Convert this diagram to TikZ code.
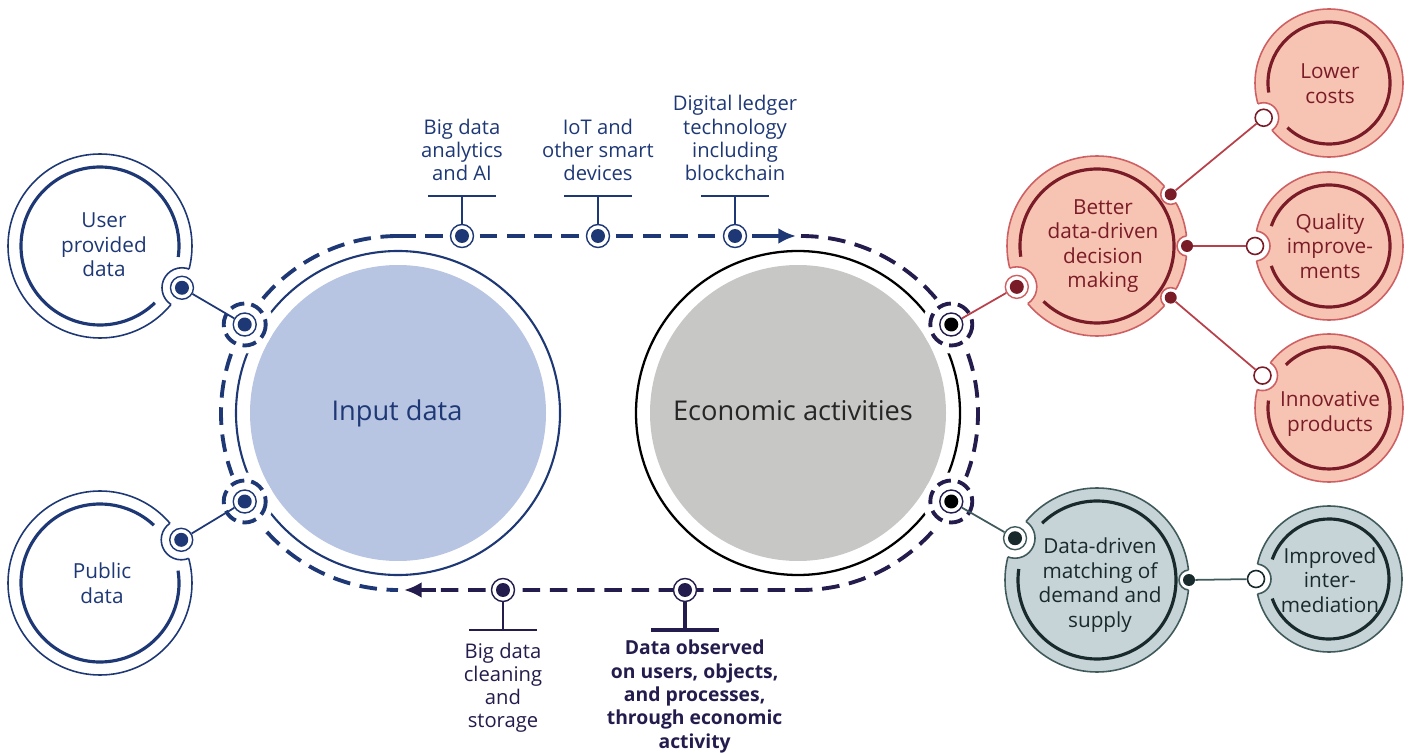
\documentclass[tikz,border=0pt]{standalone}
\usepackage{fontspec}
\setmainfont{Open Sans}
\usetikzlibrary{arrows.meta,calc,positioning}

\definecolor{navy}{RGB}{30,56,118}
\definecolor{plum}{RGB}{35,28,76}
\definecolor{skyfill}{RGB}{183,197,226}
\definecolor{greyfill}{RGB}{199,200,198}
\definecolor{rosefill}{RGB}{247,195,178}
\definecolor{roseedge}{RGB}{206,96,100}
\definecolor{roselink}{RGB}{184,64,74}
\definecolor{wine}{RGB}{122,28,40}
\definecolor{tealfill}{RGB}{198,211,215}
\definecolor{tealedge}{RGB}{64,90,92}
\definecolor{ink}{RGB}{25,42,44}

\tikzset{%
  track/.style={line width=2.2pt,dash pattern=on 10pt off 5.5pt},
  flowtip/.style={line width=2.2pt,-{Latex[length=10pt,width=9pt]}},
  link/.style={line width=1pt},
  stem/.style={line width=0.9pt},
  dot/.style 2 args={circle,inner sep=0pt,minimum size=0.46cm,draw=#1,fill=white,line width=0.8pt,
    path picture={\fill[#2] (path picture bounding box.center) circle[radius=0.14cm];}},
  hollow/.style={circle,inner sep=0pt,minimum size=0.34cm,draw=#1,fill=white,line width=0.9pt},
  rimdot/.style={circle,inner sep=0pt,minimum size=0.24cm,fill=#1},
  txt/.style={align=center,inner sep=0pt,font=\fontsize{11.8}{14}\selectfont},
  lbl/.style={align=center,inner sep=0pt,font=\fontsize{11.5}{13.2}\selectfont},
  bigtxt/.style={inner sep=0pt,font=\fontsize{15.5}{18}\selectfont}
}

% centre, radius, fill, edge, ring, notch angle
\newcommand{\bubble}[6]{%
  \draw[#4, fill=#3, line width=0.9pt] #1 circle[radius=#2];
  \draw[#5, line width=1.8pt] #1 ++({#6+19}:{#2-13})
    arc[start angle={#6+19}, end angle={#6+341}, radius={#2-13}];
}
% centre, radius, point, notch radius, edge
\newcommand{\notch}[5]{%
  \fill[white] #3 circle[radius=#4];
  \begin{scope}
    \clip #1 circle[radius=#2];
    \draw[#5, line width=0.9pt] #3 circle[radius=#4];
  \end{scope}
}

\begin{document}
\begin{tikzpicture}[x=0.02cm,y=-0.02cm]
\useasboundingbox (0,0) rectangle (1411,753);

% the two main circles
\coordinate (ci) at (398,413);
\coordinate (ce) at (798,413);
\fill[skyfill] (ci) circle[radius=148];
\fill[greyfill] (ce) circle[radius=148];
\draw[navy, line width=1.2pt] (ci) circle[radius=162];
\draw[black, line width=1.3pt] (ce) circle[radius=162];
\node[bigtxt, text=navy] (input) at (397,413) {Input data};
\node[bigtxt, text=black!85] (econ) at (793,411) {Economic activities};

% the dashed loop
\draw[navy, track] (398,236) arc[start angle=270, end angle=90, radius=177];
\draw[navy, track] (398,236) -- (766,236);
\draw[navy, flowtip] (764,236) -- (796,236);
\draw[plum, track] (801,236) arc[start angle=-90, end angle=90, radius=177] -- (434,590);
\draw[plum, flowtip] (436,590) -- (404,590);

\coordinate (ji1) at ($(ci)+(210:177)$);
\coordinate (ji2) at ($(ci)+(150:177)$);
\coordinate (je1) at ($(ce)+(-30:177)$);
\coordinate (je2) at ($(ce)+(30:177)$);
\foreach \p/\c in {ji1/navy,ji2/navy,je1/plum,je2/plum}{
  \fill[white] (\p) circle[radius=29];
  \draw[\c, track, dash pattern=on 8pt off 4pt] (\p) circle[radius=21];
}
\node[dot={navy}{navy}] (ri1) at (ji1) {};
\node[dot={navy}{navy}] (ri2) at (ji2) {};
\node[dot={plum}{black}] (re1) at (je1) {};
\node[dot={plum}{black}] (re2) at (je2) {};

% technologies on top
\node[dot={navy}{navy}] (t1) at (462,236) {};
\node[dot={navy}{navy}] (t2) at (598,236) {};
\node[dot={navy}{navy}] (t3) at (735,236) {};
\coordinate (bar1) at (462,196);
\coordinate (bar2) at (598,196);
\coordinate (bar3) at (735,196);
\foreach \i in {1,2,3}{
  \draw[navy, stem] ($(bar\i)+(-34,0)$) -- ($(bar\i)+(34,0)$);
  \draw[navy, stem] (bar\i) -- (t\i);
}
\node[lbl, text=navy, above=8.5pt of bar1] (ai) {Big data\\analytics\\and AI};
\node[lbl, text=navy, above=8.5pt of bar2] (iot) {IoT and\\other smart\\devices};
\node[lbl, text=navy, above=8.5pt of bar3] (dlt) {Digital ledger\\technology\\including\\blockchain};

% bottom
\node[dot={plum}{plum}] (s1) at (503,590) {};
\node[dot={plum}{plum}] (s2) at (685,590) {};
\coordinate (foot1) at (503,630);
\coordinate (foot2) at (685,630);
\draw[plum, stem] ($(foot1)+(-34,0)$) -- ($(foot1)+(34,0)$);
\draw[plum, stem] (foot1) -- (s1);
\draw[plum, line width=2.2pt] ($(foot2)+(-34,0)$) -- ($(foot2)+(34,0)$);
\draw[plum, line width=2.2pt] (foot2) -- (s2);
\node[lbl, text=plum, below=7pt of foot1] (clean) {Big data\\cleaning\\and\\storage};
\node[lbl, text=plum, font=\fontsize{11}{13.3}\selectfont\bfseries, below=5.5pt of foot2, xshift=5.5pt] (obs)
  {Data observed\\on users, objects,\\and processes,\\through economic\\activity};

% data sources
\coordinate (cu) at (100,246);
\coordinate (cp) at (100,583);
\bubble{(cu)}{92}{white}{navy}{navy}{27}
\bubble{(cp)}{92}{white}{navy}{navy}{-28}
\coordinate (nu) at ($(cu)+(27:92)$);
\coordinate (np) at ($(cp)+(-28:92)$);
\notch{(cu)}{92}{(nu)}{20}{navy}
\notch{(cp)}{92}{(np)}{20}{navy}
\node[dot={navy}{navy}] (du) at (nu) {};
\node[dot={navy}{navy}] (dp) at (np) {};
\node[txt, text=navy] (user) at (104,245) {User\\provided\\data};
\node[txt, text=navy] (public) at (102,583) {Public\\data};
\draw[navy, link] (du) -- (ri1);
\draw[navy, link] (dp) -- (ri2);

% better decisions
\coordinate (cb) at (1097,246);
\coordinate (cl) at (1329,83);
\coordinate (cq) at (1329,246);
\coordinate (cn) at (1329,408);
\bubble{(cb)}{90}{rosefill}{roseedge}{wine}{153}
\bubble{(cl)}{74}{rosefill}{roseedge}{wine}{152}
\bubble{(cq)}{74}{rosefill}{roseedge}{wine}{180}
\bubble{(cn)}{74}{rosefill}{roseedge}{wine}{206}
\coordinate (nb) at ($(cb)+(153:90)$);
\notch{(cb)}{90}{(nb)}{20}{roseedge}
\foreach \a/\n in {-35/1,0/2,35/3}{
  \coordinate (nr\n) at ($(cb)+(\a:90)$);
  \notch{(cb)}{90}{(nr\n)}{10}{roseedge}
}
\coordinate (nl) at ($(cl)+(152:74)$);
\coordinate (nq) at ($(cq)+(180:74)$);
\coordinate (nn) at ($(cn)+(206:74)$);
\notch{(cl)}{74}{(nl)}{15}{roseedge}
\notch{(cq)}{74}{(nq)}{15}{roseedge}
\notch{(cn)}{74}{(nn)}{15}{roseedge}
\node[dot={roseedge}{wine}] (db) at (nb) {};
\node[rimdot=wine] (r1) at (nr1) {};
\node[rimdot=wine] (r2) at (nr2) {};
\node[rimdot=wine] (r3) at (nr3) {};
\node[hollow=wine] (h1) at (nl) {};
\node[hollow=wine] (h2) at (nq) {};
\node[hollow=wine] (h3) at (nn) {};
\draw[roselink, link] (re1) -- (db);
\draw[roselink, link] (r1) -- (h1);
\draw[roselink, link] (r2) -- (h2);
\draw[roselink, link] (r3) -- (h3);
\node[txt, text=wine] (better) at (1103,246) {Better\\data-driven\\decision\\making};
\node[txt, text=wine] (lower) at (1330,84) {Lower\\costs};
\node[txt, text=wine] (quality) at (1330,246) {Quality\\improve-\\ments};
\node[txt, text=wine] (innov) at (1330,414) {Innovative\\products};

% matching
\coordinate (cm) at (1097,580);
\coordinate (cv) at (1329,579);
\bubble{(cm)}{92}{tealfill}{tealedge}{ink}{207}
\bubble{(cv)}{73}{tealfill}{tealedge}{ink}{180}
\coordinate (nm) at ($(cm)+(207:92)$);
\coordinate (nm2) at ($(cm)+(0:92)$);
\coordinate (nv) at ($(cv)+(180:73)$);
\notch{(cm)}{92}{(nm)}{20}{tealedge}
\notch{(cm)}{92}{(nm2)}{10}{tealedge}
\notch{(cv)}{73}{(nv)}{15}{tealedge}
\node[dot={tealedge}{ink}] (dm) at (nm) {};
\node[rimdot=ink] (m1) at (nm2) {};
\node[hollow=ink] (h4) at (nv) {};
\draw[tealedge, link] (re2) -- (dm);
\draw[tealedge, link] (m1) -- (h4);
\node[txt, text=ink] (matching) at (1100,585) {Data-driven\\matching of\\demand and\\supply};
\node[txt, text=ink] (interm) at (1330,580) {Improved\\inter-\\mediation};
\end{tikzpicture}
\end{document}
